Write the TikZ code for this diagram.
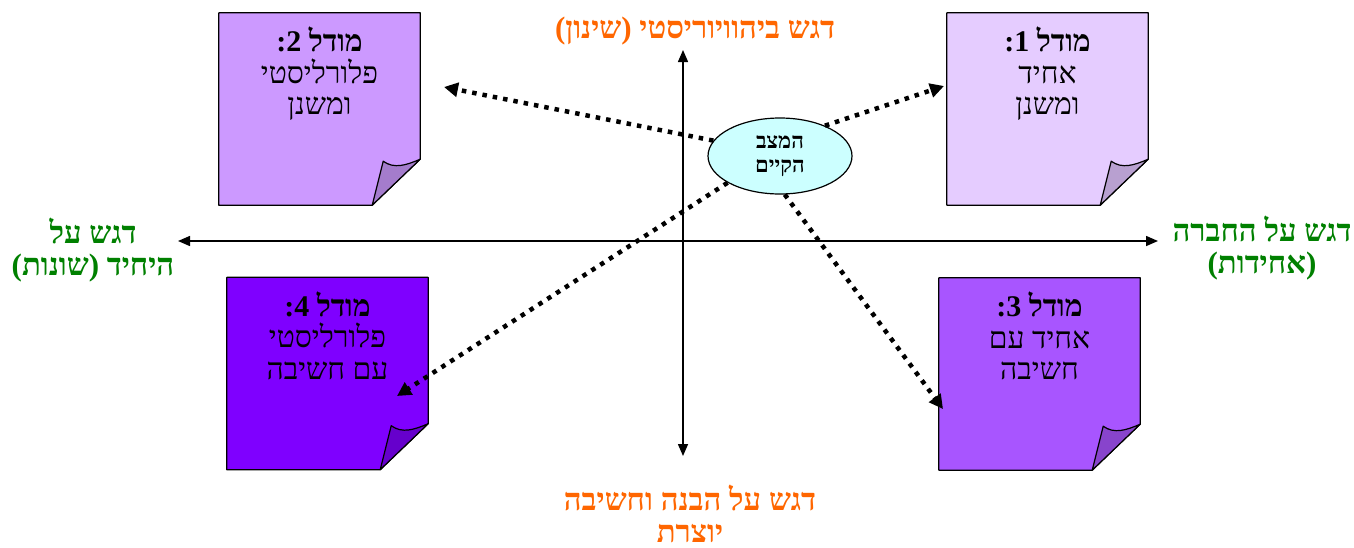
\documentclass[tikz,border=0pt]{standalone}
\usepackage{fontspec}
\usetikzlibrary{positioning,shapes.geometric,arrows.meta,calc}
\TeXXeTstate=1
\newfontfamily\hebfont[Script=Hebrew]{Liberation Serif}
\newcommand{\heb}[1]{\beginR #1\endR}
\newcommand{\notetitle}[1]{{\bfseries\heb{#1}}}
\definecolor{labor}{HTML}{FF6600}
\definecolor{labgr}{HTML}{008000}
\definecolor{cloud}{HTML}{CCFFFF}
\definecolor{note1}{HTML}{E5CCFF}
\definecolor{flap1}{HTML}{B8A0D0}
\definecolor{note2}{HTML}{CC99FF}
\definecolor{flap2}{HTML}{A47CCC}
\definecolor{note3}{HTML}{A855FF}
\definecolor{flap3}{HTML}{8844CC}
\definecolor{note4}{HTML}{7F00FF}
\definecolor{flap4}{HTML}{6600CC}
\newcommand{\notefold}[3]{%
  \filldraw[fill=#2, line width=1.2pt, line join=round] (#1.north west) -- (#1.north east)
    -- ($(#1.south east)+(0,-46)$) -- ($(#1.south east)+(-48,0)$) -- (#1.south west) -- cycle;
  \filldraw[fill=#3, line width=1.2pt, line join=round] ($(#1.south east)+(-48,0)$) -- ($(#1.south east)+(-37,-44)$)
    .. controls ($(#1.south east)+(-26,-36)$) and ($(#1.south east)+(-14,-40)$) .. ($(#1.south east)+(0,-46)$) -- cycle;
}
\tikzset{
  note/.style={minimum width=201pt, minimum height=192pt, inner sep=0pt},
  notetext/.style={font=\hebfont\fontsize{30}{31.5}\selectfont, align=center, inner sep=0pt},
  axislabel/.style={font=\hebfont\bfseries\fontsize{31}{32}\selectfont, align=center, inner sep=0pt},
  axis/.style={line width=1.5pt, {Triangle[length=12pt,width=10pt]}-{Triangle[length=12pt,width=10pt]}},
  dots/.style={line width=4.5pt, dash pattern=on 4.5pt off 6pt, -{Triangle[length=14pt,width=14pt]}},
}
\begin{document}
\begin{tikzpicture}[x=1pt, y=-1pt]
\useasboundingbox (0,0) rectangle (1354,547);

\coordinate (xl) at (178,241);
\coordinate (xr) at (1158,241);
\coordinate (yt) at (683,50);
\coordinate (yb) at (683,456);
\draw[axis] (xl) -- (xr);
\draw[axis] (yt) -- (yb);

\node[note] (m1) at (1047.5,109) {};
\node[note] (m2) at (319.5,109) {};
\node[note] (m3) at (1039.5,374) {};
\node[note] (m4) at (327.5,373.5) {};
\notefold{m1}{note1}{flap1}
\notefold{m2}{note2}{flap2}
\notefold{m3}{note3}{flap3}
\notefold{m4}{note4}{flap4}

\node[notetext, below=14pt of m1.north] (t1) {\notetitle{מודל 1:}\\\heb{אחיד}\\\heb{ומשנן}};
\node[notetext, below=14pt of m2.north] (t2) {\notetitle{מודל 2:}\\\heb{פלורליסטי}\\\heb{ומשנן}};
\node[notetext, below=14pt of m3.north] (t3) {\notetitle{מודל 3:}\\\heb{אחיד עם}\\\heb{חשיבה}};
\node[notetext, below=14pt of m4.north] (t4) {\notetitle{מודל 4:}\\\heb{פלורליסטי}\\\heb{עם חשיבה}};

\node[ellipse, draw, line width=1.2pt, fill=cloud, minimum width=144pt, minimum height=76pt, inner sep=0pt,
  font=\hebfont\bfseries\fontsize{22}{24}\selectfont, align=center] (c) at (780,156) {\heb{המצב}\\\heb{הקיים}};

\coordinate (e1) at (944,86);
\coordinate (e2) at (444,87);
\coordinate (e3) at (943,409);
\coordinate (e4) at (397,396);
\draw[dots] (c.34) -- (e1);
\draw[dots] (c.167) -- (e2);
\draw[dots] (c.-83) -- (e3);
\draw[dots] (c.207) -- (e4);

\node[axislabel, text=labor] (top) at (695,31) {\heb{דגש ביהוויוריסטי (שינון)}};
\node[axislabel, text=labor] (bot) at (690,514) {\heb{דגש על הבנה וחשיבה}\\\heb{יוצרת}};
\node[axislabel, text=labgr] (lft) at (93,250) {\heb{דגש על}\\\heb{היחיד (שונות)}};
\node[axislabel, text=labgr] (rgt) at (1262,248) {\heb{דגש על החברה}\\\heb{(אחידות)}};
\end{tikzpicture}
\end{document}
